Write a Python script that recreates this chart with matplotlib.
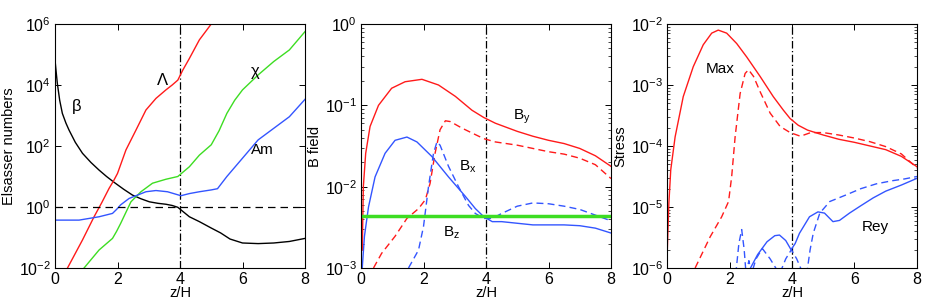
import numpy as np
import matplotlib
matplotlib.use("Agg")
import matplotlib.pyplot as plt
from matplotlib.ticker import LogLocator, FixedLocator, NullFormatter

plt.rcParams["font.family"] = ["Liberation Sans", "DejaVu Sans"]
plt.rcParams["mathtext.fontset"] = "custom"
plt.rcParams["mathtext.rm"] = "Liberation Sans"
plt.rcParams["mathtext.it"] = "Liberation Sans"

RED = "#ff1a1a"
GREEN = "#3ddd22"
BLUE = "#3355ff"

# ---- panel 1: Elsasser numbers (log10 values) ----
z_beta = [0.0, 0.04, 0.075, 0.15, 0.235, 0.35, 0.45, 0.65, 0.88, 1.15, 1.41, 1.65, 1.89, 2.2, 2.48, 2.75, 3.02, 3.3, 3.55, 3.75, 3.93,
          4.3, 4.62, 5.0, 5.3, 5.6, 6.0, 6.5, 7.0, 7.5, 8.0]
beta = [4.82, 4.4, 4.05, 3.5, 3.07, 2.75, 2.52, 2.12, 1.76, 1.46, 1.21, 1.0, 0.81, 0.58, 0.39, 0.27, 0.17, 0.12, 0.09, 0.05, -0.01,
        -0.32, -0.48, -0.69, -0.85, -1.05, -1.18, -1.2, -1.18, -1.13, -1.03]

z_lam = [0.4, 0.88, 1.25, 1.5, 1.73, 1.87, 2.0, 2.27, 2.59, 2.91, 3.23, 3.55, 3.75, 3.93, 4.09, 4.3, 4.62, 5.0, 5.3]
lam = [-2.0, -1.08, -0.32, 0.15, 0.61, 0.85, 1.1, 1.87, 2.52, 3.18, 3.56, 3.84, 4.0, 4.16, 4.49, 4.87, 5.48, 6.0, 6.4]

z_chi = [0.93, 1.41, 1.84, 1.97, 2.1, 2.43, 2.75, 3.12, 3.55, 3.93, 4.3, 4.62, 5.0, 5.25, 5.5, 5.75, 6.0, 6.5, 7.0, 7.5, 8.0]
chi = [-2.0, -1.41, -1.03, -0.8, -0.54, 0.17, 0.5, 0.78, 0.91, 1.0, 1.32, 1.7, 2.04, 2.5, 3.07, 3.5, 3.84, 4.33, 4.77, 5.15, 5.75]

z_am = [0.0, 0.77, 1.41, 1.84, 1.97, 2.1, 2.37, 2.91, 3.23, 3.6, 4.03, 4.3, 4.62, 5.0, 5.2, 5.5, 6.0, 6.5, 7.0, 7.5, 8.0]
am = [-0.43, -0.43, -0.32, -0.21, -0.08, 0.07, 0.28, 0.5, 0.54, 0.5, 0.37, 0.44, 0.5, 0.56, 0.6, 1.0, 1.6, 2.2, 2.58, 2.96, 3.53]

# ---- panel 2: B field (log10 values) ----
z_by = [0.04, 0.075, 0.15, 0.29, 0.56, 0.98, 1.41, 1.95, 2.48, 3.02, 3.55, 3.93, 4.3, 5.0, 5.5, 6.0, 6.5, 7.0, 7.5, 8.0]
by = [-2.78, -2.0, -1.59, -1.26, -1.0, -0.79, -0.71, -0.68, -0.75, -0.89, -1.06, -1.15, -1.22, -1.32, -1.38, -1.43, -1.47, -1.53, -1.62, -1.75]
z_by_d = [0.4, 0.66, 1.09, 1.47, 1.84, 2.06, 2.21, 2.37, 2.53, 2.7, 2.86, 3.23, 3.66, 3.93, 4.3, 5.0, 5.5, 6.0, 6.5, 7.0, 7.5, 8.0]
by_d = [-3.0, -2.82, -2.61, -2.39, -2.27, -2.16, -1.96, -1.59, -1.3, -1.19, -1.2, -1.28, -1.36, -1.41, -1.45,
        -1.49, -1.53, -1.57, -1.6, -1.65, -1.73, -1.9]
z_bx = [0.04, 0.11, 0.24, 0.45, 0.77, 1.09, 1.47, 1.79, 2.27, 2.8, 3.34, 3.66, 3.93, 4.2, 4.5, 5.0, 5.5, 6.0, 6.5, 7.0, 7.5, 8.0]
bx = [-3.0, -2.61, -2.25, -1.88, -1.59, -1.43, -1.39, -1.45, -1.63, -1.88, -2.12, -2.27, -2.37, -2.43, -2.43,
      -2.45, -2.47, -2.47, -2.47, -2.48, -2.51, -2.57]
z_bx_d = [1.52, 1.84, 2.0, 2.16, 2.32, 2.43, 2.53, 2.8, 3.12, 3.44, 3.66, 3.93, 4.2, 4.5, 5.0, 5.5, 6.0, 6.5, 7.0, 7.5, 8.0]
bx_d = [-3.0, -2.78, -2.49, -2.0, -1.59, -1.45, -1.49, -1.75, -2.0, -2.23, -2.33, -2.39, -2.39, -2.33, -2.24,
        -2.2, -2.21, -2.24, -2.28, -2.35, -2.42]
bz_level = -2.36

# ---- panel 3: stresses (log10 values) ----
z_max = [0.01, 0.06, 0.12, 0.26, 0.52, 0.84, 1.16, 1.43, 1.64, 1.91, 2.23, 2.55, 2.98, 3.4, 3.72, 3.94, 4.2, 4.5,
         5.0, 5.5, 6.0, 6.5, 7.0, 7.5, 8.0]
maxw = [-5.7, -4.94, -4.39, -3.85, -3.19, -2.7, -2.34, -2.15, -2.1, -2.15, -2.32, -2.54, -2.86, -3.19, -3.41, -3.55, -3.66, -3.74,
        -3.82, -3.89, -3.94, -4.0, -4.06, -4.17, -4.34]
z_max_d = [0.9, 1.38, 1.75, 1.97, 2.07, 2.18, 2.34, 2.5, 2.61, 2.77, 2.98, 3.3, 3.62, 3.94, 4.27, 4.6, 5.0, 5.5, 6.0, 6.5, 7.0, 7.5, 8.0]
maxw_d = [-6.0, -5.49, -5.16, -4.91, -4.5, -3.85, -3.14, -2.81, -2.75, -2.86, -3.11, -3.46, -3.68, -3.78, -3.84,
          -3.78, -3.78, -3.82, -3.87, -3.93, -4.01, -4.13, -4.36]
z_rey = [2.62, 2.9, 3.2, 3.45, 3.6, 3.8, 3.97, 4.1, 4.24, 4.56, 4.83, 5.04, 5.31, 5.52, 5.84, 6.2, 6.6, 7.0, 7.5, 8.0]
rey = [-6.05, -5.78, -5.57, -5.47, -5.46, -5.55, -5.7, -5.6, -5.43, -5.16, -5.08, -5.1, -5.24, -5.22, -5.1,
       -4.98, -4.85, -4.74, -4.64, -4.53]
z_rey_d = [2.2, 2.3, 2.39, 2.47, 2.53, 2.62, 2.7, 2.85, 3.05, 3.3, 3.6, 3.8, 3.98, 4.15, 4.36, 4.47, 4.58, 4.68, 4.89,
           5.21, 5.74, 6.2, 6.7, 7.2, 7.6, 8.0]
rey_d = [-6.1, -5.6, -5.37, -5.7, -6.1, -5.88, -6.1, -5.85, -5.68, -5.85, -6.1, -5.85, -5.7, -5.85, -6.1, -6.1, -5.7, -5.43, -5.1,
         -4.91, -4.8, -4.7, -4.62, -4.57, -4.54, -4.5]


def p(v):
    return 10.0 ** np.asarray(v)


def style(ax, ylo, yhi, ylabel, label_decades, minor):
    ax.set_yscale("log")
    ax.set_xlim(0, 8)
    ax.set_ylim(10.0 ** ylo, 10.0 ** yhi)
    ax.xaxis.set_major_locator(FixedLocator([0, 2, 4, 6, 8]))
    ax.yaxis.set_major_locator(FixedLocator([10.0 ** k for k in label_decades]))
    if minor:
        ax.yaxis.set_minor_locator(LogLocator(base=10, subs=np.arange(2, 10)))
    else:
        ax.yaxis.set_minor_locator(FixedLocator([]))
    ax.yaxis.set_minor_formatter(NullFormatter())
    ax.tick_params(which="both", direction="in", top=True, right=True, labelsize=11.5, pad=3)
    ax.tick_params(which="major", length=4, width=0.7)
    ax.tick_params(which="minor", length=2, width=0.5)
    ax.set_xlabel("z/H", fontsize=10.5, labelpad=-1)
    ax.set_ylabel(ylabel, fontsize=10.5, labelpad=2)
    for s in ax.spines.values():
        s.set_linewidth(0.8)
    ax.axvline(4, color="black", ls=(0, (6, 2, 1, 2)), lw=0.9)


fig = plt.figure(figsize=(9.26, 3.05), dpi=100)
W, H = 926.0, 305.0
bottom = 1 - 268 / H
height = 244 / H
width = 250 / W
ax1 = fig.add_axes([55 / W, bottom, width, height])
ax2 = fig.add_axes([361 / W, bottom, width, height])
ax3 = fig.add_axes([667 / W, bottom, width, height])

# panel 1
style(ax1, -2, 6, "Elsasser numbers", [-2, 0, 2, 4, 6], False)
ax1.plot(z_beta, p(beta), color="black", lw=1)
ax1.plot(z_lam, p(lam), color=RED, lw=1)
ax1.plot(z_chi, p(chi), color=GREEN, lw=1)
ax1.plot(z_am, p(am), color=BLUE, lw=1)
ax1.axhline(1.0, color="black", ls=(0, (6, 4)), lw=0.9)
ax1.text(0.69, 10 ** 3.29, r"$\beta$", fontsize=12, ha="center", va="center")
ax1.text(3.43, 10 ** 4.17, r"$\Lambda$", fontsize=12, ha="center", va="center")
ax1.text(6.4, 10 ** 4.38, r"$\chi$", fontsize=12, ha="center", va="center")
ax1.text(6.62, 10 ** 1.87, "Am", fontsize=11, ha="center", va="center")

# panel 2
style(ax2, -3, 0, "B field", [-3, -2, -1, 0], True)
ax2.plot(z_by, p(by), color=RED, lw=1)
ax2.plot(z_by_d, p(by_d), color=RED, lw=1, ls=(0, (5, 3)))
ax2.plot(z_bx, p(bx), color=BLUE, lw=1)
ax2.plot(z_bx_d, p(bx_d), color=BLUE, lw=1, ls=(0, (5, 3)))
ax2.axhline(10 ** bz_level, color=GREEN, lw=2.5)
ax2.text(5.14, 10 ** -1.14, r"B$_{\rm y}$", fontsize=11, ha="center", va="center")
ax2.text(3.43, 10 ** -1.75, r"B$_{\rm x}$", fontsize=11, ha="center", va="center")
ax2.text(2.9, 10 ** -2.57, r"B$_{\rm z}$", fontsize=11, ha="center", va="center")

# panel 3
style(ax3, -6, -2, "Stress", [-6, -5, -4, -3, -2], True)
ax3.plot(z_max, p(maxw), color=RED, lw=1)
ax3.plot(z_max_d, p(maxw_d), color=RED, lw=1, ls=(0, (5, 3)))
ax3.plot(z_rey, p(rey), color=BLUE, lw=1)
ax3.plot(z_rey_d, p(rey_d), color=BLUE, lw=1, ls=(0, (5, 3)))
ax3.text(1.69, 10 ** -2.73, "Max", fontsize=11, ha="center", va="center")
ax3.text(6.66, 10 ** -5.32, "Rey", fontsize=11, ha="center", va="center")

fig.savefig("out.png", dpi=100)
